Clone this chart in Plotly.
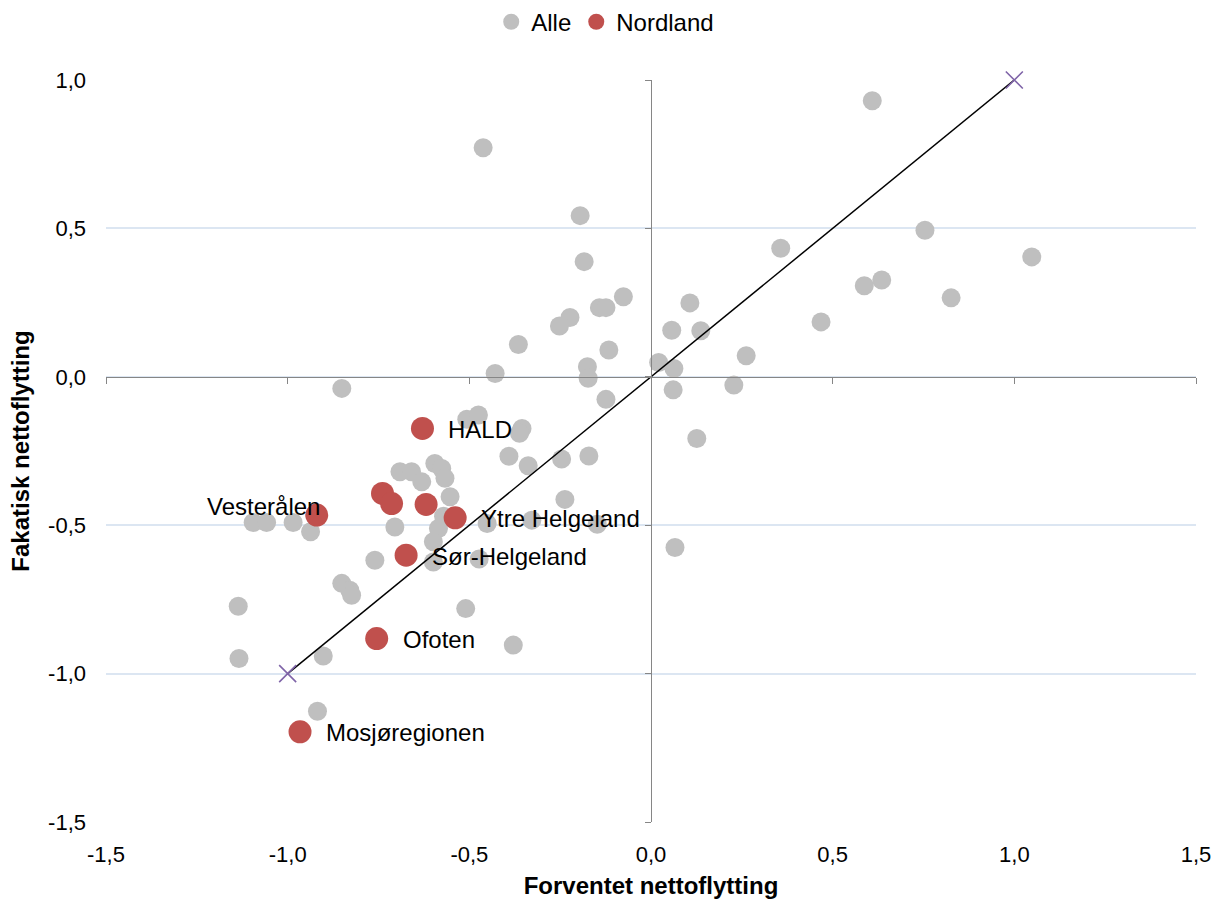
import plotly.graph_objects as go

# ---- data -------------------------------------------------------------
alle_x = [-0.851, -0.507, -0.475, -0.355, -0.362, -0.391, -0.338, -0.246, -0.171, -0.237,
          -0.691, -0.659, -0.595, -0.576, -0.631, -0.567, -0.553, -0.571, -0.585, -0.599,
          -0.599, -0.705, -0.760, -0.473, -0.451, -0.328, -0.148, 0.066, -1.095, -1.058,
          -0.985, -0.937, -0.851, -0.829, -0.824, -1.136, -0.510, -0.379, -1.134, -0.902,
          -0.918, -0.462, -0.195, -0.184, -0.076, -0.142, -0.124, -0.223, -0.252, 0.107,
          0.057, 0.137, -0.365, -0.116, 0.262, 0.021, -0.175, 0.063, -0.429, -0.173,
          0.228, 0.061, -0.124, 0.126, 0.609, 0.754, 0.357, 1.048, 0.635, 0.587,
          0.826, 0.468]
alle_y = [-0.039, -0.143, -0.129, -0.174, -0.190, -0.268, -0.300, -0.277, -0.267, -0.413,
          -0.320, -0.320, -0.292, -0.309, -0.354, -0.342, -0.404, -0.470, -0.511, -0.556,
          -0.624, -0.506, -0.618, -0.614, -0.494, -0.483, -0.497, -0.575, -0.491, -0.491,
          -0.491, -0.522, -0.696, -0.719, -0.736, -0.773, -0.781, -0.904, -0.949, -0.941,
          -1.127, 0.772, 0.543, 0.388, 0.270, 0.233, 0.233, 0.200, 0.171, 0.249,
          0.157, 0.155, 0.109, 0.090, 0.071, 0.048, 0.034, 0.028, 0.011, -0.005,
          -0.028, -0.044, -0.076, -0.208, 0.930, 0.494, 0.433, 0.404, 0.326, 0.307,
          0.266, 0.185]

nordland_x = [-0.629, -0.920, -0.539, -0.674, -0.755, -0.966, -0.739, -0.714, -0.619]
nordland_y = [-0.174, -0.466, -0.475, -0.601, -0.882, -1.196, -0.393, -0.427, -0.430]
nordland_labels = ["HALD", "Vesterålen", "Ytre Helgeland", "Sør-Helgeland", "Ofoten",
                   "Mosjøregionen", "", "", ""]

diag_x = [-1.0, 1.0]
diag_y = [-1.0, 1.0]

x_tickvals = [-1.5, -1.0, -0.5, 0.0, 0.5, 1.0, 1.5]
x_ticktext = ["-1,5", "-1,0", "-0,5", "0,0", "0,5", "1,0", "1,5"]
y_tickvals = [-1.5, -1.0, -0.5, 0.0, 0.5, 1.0]
y_ticktext = ["-1,5", "-1,0", "-0,5", "0,0", "0,5", "1,0"]

x_range = [-1.5, 1.5]
y_range = [-1.5, 1.0]

# ---- style ------------------------------------------------------------
FONT = "Liberation Sans, Arial, sans-serif"
GRAY = "#BFBFBF"
RED = "#C0504D"
PURPLE = "#7F64A8"
AXIS = "#868686"
GRID = "#DCE6F2"
label_left = {"Vesterålen"}

fig = go.Figure()

fig.add_trace(go.Scatter(
    x=alle_x, y=alle_y, mode="markers", name="Alle",
    marker=dict(color=GRAY, size=19, line=dict(width=0)),
    hoverinfo="skip"))

fig.add_trace(go.Scatter(
    x=nordland_x, y=nordland_y, mode="markers", name="Nordland",
    marker=dict(color=RED, size=23, line=dict(width=0)),
    hoverinfo="skip"))

fig.add_trace(go.Scatter(
    x=diag_x, y=diag_y, mode="lines+markers", xaxis="x2", yaxis="y2",
    showlegend=False, hoverinfo="skip", cliponaxis=False,
    line=dict(color="black", width=1.5),
    marker=dict(symbol="x-thin", size=17, color=PURPLE,
                line=dict(color=PURPLE, width=1.6))))

for x, y, t in zip(nordland_x, nordland_y, nordland_labels):
    if not t:
        continue
    if t in label_left:
        fig.add_annotation(x=x, y=y, xref="x", yref="y", text=t, showarrow=False,
                           xanchor="right", yanchor="middle", xshift=5, yshift=9,
                           font=dict(family=FONT, size=24, color="black"))
    else:
        fig.add_annotation(x=x, y=y, xref="x", yref="y", text=t, showarrow=False,
                           xanchor="left", yanchor="middle", xshift=24, yshift=-1,
                           font=dict(family=FONT, size=24, color="black"))

zero_y_pos = (0 - y_range[0]) / (y_range[1] - y_range[0])
zero_x_pos = (0 - x_range[0]) / (x_range[1] - x_range[0])

fig.update_layout(
    width=1214, height=899,
    margin=dict(l=106, r=18, t=80, b=77, autoexpand=False),
    paper_bgcolor="white", plot_bgcolor="white",
    font=dict(family=FONT, size=22, color="black"),
    showlegend=True,
    legend=dict(orientation="h", x=0.458, xanchor="center", y=1.078, yanchor="middle",
                font=dict(family=FONT, size=24, color="black"),
                itemwidth=30, tracegroupgap=0, bgcolor="rgba(0,0,0,0)"),
    xaxis=dict(range=x_range, tickmode="array", tickvals=x_tickvals, ticktext=x_ticktext,
               showgrid=False, zeroline=False, showline=False, ticks="", automargin=False,
               ticklabelstandoff=17, tickfont=dict(size=22),
               title=dict(text="<b>Forventet nettoflytting</b>", standoff=11,
                          font=dict(size=24, family=FONT))),
    yaxis=dict(range=y_range, tickmode="array", tickvals=y_tickvals, ticktext=y_ticktext,
               showgrid=True, gridcolor=GRID, gridwidth=1.5, zeroline=False, showline=False,
               ticks="", ticklabelstandoff=19, tickfont=dict(size=22), automargin=False,
               title=dict(text="<b>Fakatisk nettoflytting</b>", standoff=11,
                          font=dict(size=24, family=FONT))),
    xaxis2=dict(overlaying="x", anchor="free", position=zero_y_pos, side="bottom",
                range=x_range, tickmode="array", tickvals=x_tickvals, automargin=False,
                showticklabels=False, showgrid=False, zeroline=False,
                showline=True, linecolor=AXIS, linewidth=1.3,
                ticks="outside", ticklen=6, tickcolor=AXIS, tickwidth=1.3),
    yaxis2=dict(overlaying="y", anchor="free", position=zero_x_pos, side="left",
                range=y_range, tickmode="array", tickvals=y_tickvals, automargin=False,
                showticklabels=False, showgrid=False, zeroline=False,
                showline=True, linecolor=AXIS, linewidth=1.3,
                ticks="outside", ticklen=6, tickcolor=AXIS, tickwidth=1.3),
)

fig.write_html("out.html", config={"displayModeBar": False},
               post_script="document.body.style.margin='0';document.body.style.overflow='hidden';")
